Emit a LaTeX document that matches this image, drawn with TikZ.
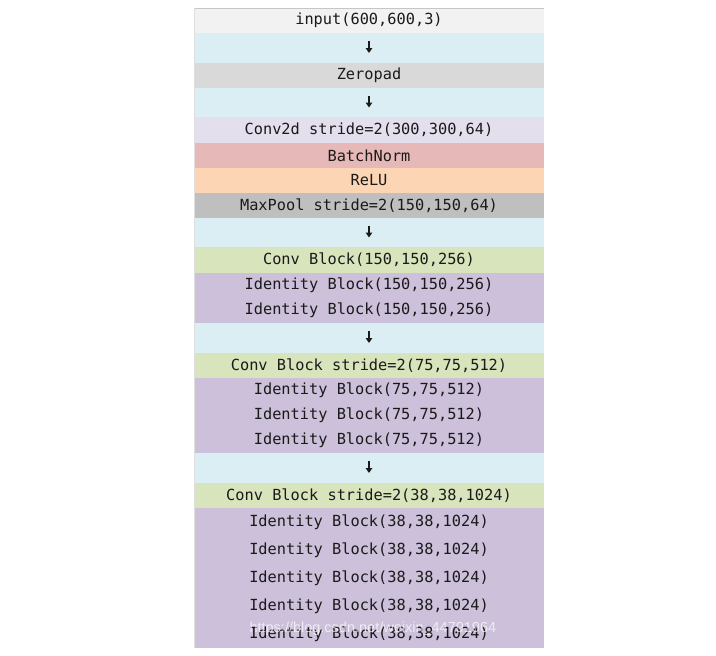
\documentclass[tikz,border=0pt]{standalone}
\usepackage{fontspec}
\usetikzlibrary{positioning,arrows.meta}
\newfontfamily\mono{DejaVu Sans Mono}
\newfontfamily\wmfont{Liberation Sans}
\definecolor{inpc}{HTML}{F2F2F2}
\definecolor{gapc}{HTML}{DAEEF3}
\definecolor{zpc}{HTML}{D9D9D9}
\definecolor{convc}{HTML}{E4DFEC}
\definecolor{bnc}{HTML}{E6B8B7}
\definecolor{reluc}{HTML}{FCD5B4}
\definecolor{poolc}{HTML}{BFBFBF}
\definecolor{cbc}{HTML}{D8E4BC}
\definecolor{idc}{HTML}{CCC0DA}
\definecolor{txt}{HTML}{1A1A1A}
\begin{document}
\begin{tikzpicture}[x=1pt,y=1pt,
	layer/.style={rectangle,minimum width=350pt,inner sep=0pt,outer sep=0pt,text=txt,font={\mono\fontsize{15.3}{18}\selectfont}},
	dn/.style={-{Triangle[width=6.5pt,length=5pt]},line width=2.8pt,txt}]
	\useasboundingbox (0,0) rectangle (716,-656);
	\node[layer,fill=inpc,minimum height=25pt,anchor=north west] (in) at (194,-8) {input(600,600,3)};
	\foreach \n/\c/\h/\t [remember=\n as \p (initially in)] in {
		a1/gapc/30/{},zp/zpc/25/Zeropad,a2/gapc/29/{},
		conv/convc/26/{Conv2d stride=2(300,300,64)},bn/bnc/25/BatchNorm,relu/reluc/25/ReLU,
		pool/poolc/25/{MaxPool stride=2(150,150,64)},a3/gapc/29/{},
		cb1/cbc/26/{Conv Block(150,150,256)},id11/idc/25/{Identity Block(150,150,256)},id12/idc/25/{Identity Block(150,150,256)},a4/gapc/30/{},
		cb2/cbc/25/{Conv Block stride=2(75,75,512)},id21/idc/25/{Identity Block(75,75,512)},id22/idc/25/{Identity Block(75,75,512)},id23/idc/25/{Identity Block(75,75,512)},a5/gapc/30/{},
		cb3/cbc/25/{Conv Block stride=2(38,38,1024)},id31/idc/28/{Identity Block(38,38,1024)},id32/idc/28/{Identity Block(38,38,1024)},id33/idc/28/{Identity Block(38,38,1024)},id34/idc/28/{Identity Block(38,38,1024)},id35/idc/28/{Identity Block(38,38,1024)}}
	\node[layer,fill=\c,minimum height=\h pt,below=0pt of \p] (\n) {\t};
	
	\foreach \a in {a1,a2,a3,a4,a5}
	\draw[dn] ([yshift=7pt]\a.center) -- ([yshift=-5pt]\a.center);
	
	\draw[gray!45,line width=0.8pt] (in.south west) -- (in.north west) -- (in.north east);
	\draw[gray!25,line width=0.6pt] (in.north west) -- (id35.south west);
	\node[font={\wmfont\fontsize{14.5}{16}\selectfont},text=white,opacity=0.7,anchor=west] (wm) at (246,-629) {https://blog.csdn.net/weixin\_44791964};
\end{tikzpicture}
\end{document}
